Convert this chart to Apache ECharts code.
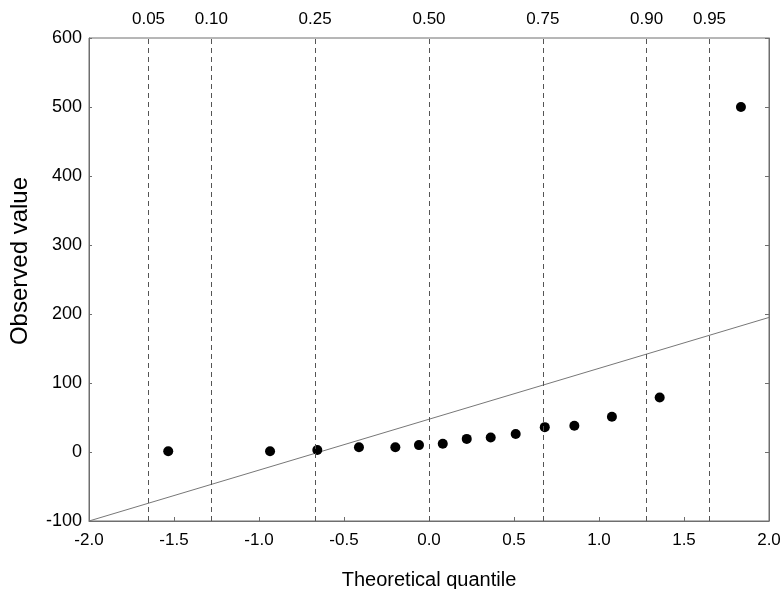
<!DOCTYPE html>
<html>
<head>
<meta charset="utf-8">
<script src="https://cdn.jsdelivr.net/npm/echarts@6/dist/echarts.min.js"></script>
<style>
  html, body { margin: 0; padding: 0; background: #fff; }
  #chart { width: 782px; height: 589px; }
</style>
</head>
<body>
<div id="chart"></div>
<script>
const theoretical = [-1.534, -0.935, -0.657, -0.412, -0.198, -0.059, 0.081, 0.222, 0.363, 0.510, 0.681, 0.855, 1.076, 1.357, 1.835]
const observed = [1, 1, 3, 7, 7, 10, 12, 19, 21, 26, 36, 38, 51, 79, 500]

// reference line end points
const refX = [-2, 2]
const refY = [-100, 195]

// probability guide lines
const probLabels = ['0.05', '0.10', '0.25', '0.50', '0.75', '0.90', '0.95']
const probZ = [-1.645, -1.2816, -0.6745, 0, 0.6745, 1.2816, 1.645]

const narrow = '"Liberation Sans Narrow", "Arial Narrow", "Liberation Sans", Arial, sans-serif'
const regular = '"Liberation Sans", Arial, sans-serif'
const axisColor = '#6e6e6e'

const chart = echarts.init(document.getElementById('chart'))

const option = {
  animation: false,
  backgroundColor: '#fff',
  grid: {
    left: 89,
    right: 13,
    top: 38,
    bottom: 68,
    containLabel: false,
    outerBoundsMode: 'none',
    show: true,
    borderColor: axisColor,
    borderWidth: 1
  },
  xAxis: {
    type: 'value',
    min: -2,
    max: 2,
    interval: 0.5,
    axisLine: { show: true, onZero: false, lineStyle: { color: axisColor } },
    axisTick: { show: true, inside: true, length: 4, lineStyle: { color: axisColor } },
    splitLine: { show: false },
    axisLabel: {
      color: '#000',
      fontFamily: narrow,
      fontSize: 17,
      margin: 11,
      formatter: v => v.toFixed(1)
    },
    name: 'Theoretical quantile',
    nameLocation: 'middle',
    nameGap: 49,
    nameTextStyle: { color: '#000', fontFamily: regular, fontSize: 20 }
  },
  yAxis: [
    {
      type: 'value',
      min: -100,
      max: 600,
      interval: 100,
      axisLine: { show: true, onZero: false, lineStyle: { color: axisColor } },
      axisTick: { show: true, inside: true, length: 3, lineStyle: { color: axisColor } },
      splitLine: { show: false },
      axisLabel: { color: '#000', fontFamily: regular, fontSize: 18, margin: 7 }
    },
    {
      type: 'value',
      position: 'right',
      min: -100,
      max: 600,
      interval: 100,
      axisLine: { show: true, onZero: false, lineStyle: { color: axisColor } },
      axisTick: { show: true, inside: true, length: 4, lineStyle: { color: axisColor } },
      splitLine: { show: false },
      axisLabel: { show: false }
    }
  ],
  graphic: [
    {
      type: 'text',
      x: 20,
      y: 261,
      rotation: Math.PI / 2,
      style: {
        text: 'Observed value',
        fill: '#000',
        font: '24px "Liberation Sans", Arial, sans-serif',
        align: 'center',
        verticalAlign: 'middle'
      }
    }
  ],
  series: [
    {
      type: 'line',
      data: refX.map((x, i) => [x, refY[i]]),
      showSymbol: false,
      lineStyle: { color: '#777', width: 1 },
      silent: true,
      z: 1,
      markLine: {
        symbol: 'none',
        silent: true,
        lineStyle: { color: '#555', width: 1, type: [5, 4] },
        label: {
          show: true,
          position: 'end',
          distance: 10,
          color: '#000',
          fontFamily: narrow,
          fontSize: 17
        },
        data: probZ.map((z, i) => ({ xAxis: z, label: { formatter: probLabels[i] } }))
      }
    },
    {
      type: 'scatter',
      data: theoretical.map((x, i) => [x, observed[i]]),
      symbolSize: 10,
      itemStyle: { color: '#000', opacity: 1 },
      z: 3
    }
  ]
}

chart.setOption(option)
</script>
</body>
</html>
